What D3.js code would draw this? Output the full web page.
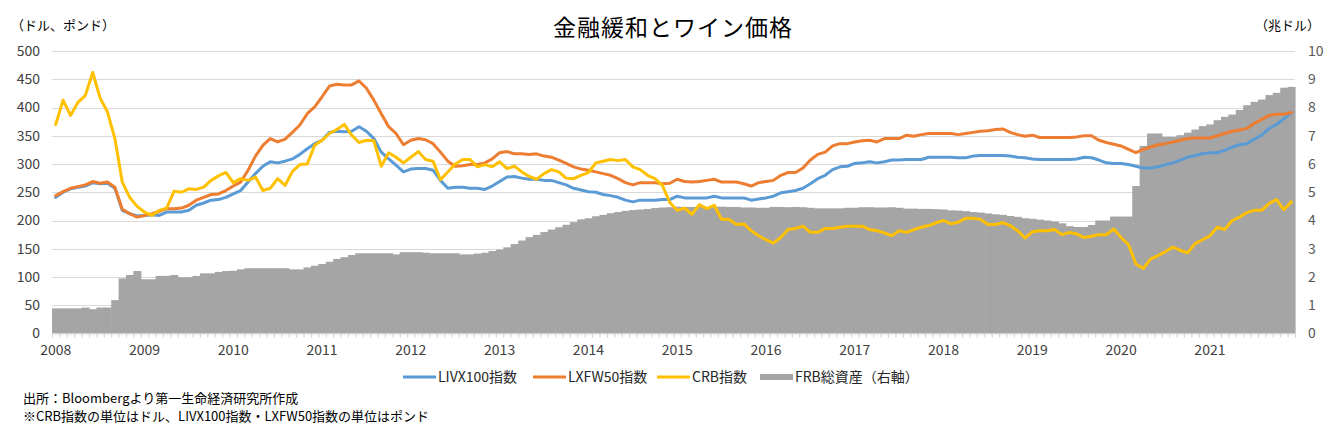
<!DOCTYPE html>
<html><head><meta charset="utf-8">
<script src="https://cdn.jsdelivr.net/npm/d3@7/dist/d3.min.js"></script>
<style>
body{margin:0;background:#fff;}
svg text{font-family:"Noto Sans CJK JP","Noto Sans",sans-serif;}
</style></head><body>
<svg id="chart" width="1340" height="427"></svg>
<script>
const yearLabels = ["2008","2009","2010","2011","2012","2013","2014","2015","2016","2017","2018","2019","2020","2021"];
const monthNames = ["01","02","03","04","05","06","07","08","09","10","11","12"];
const categories = yearLabels.flatMap(y => monthNames.map(m => y + "-" + m));
const leftTicks = [0,50,100,150,200,250,300,350,400,450,500];
const rightTicks = [0,1,2,3,4,5,6,7,8,9,10];

const livx100 = [
 241,250,256,259,261,267,265,266,257,218,212,208,
 209,210,209,215,215,215,218,227,231,236,237,241,
 247,253,268,283,296,304,302,305,309,317,327,336,
 342,356,358,357,358,366,358,345,321,309,298,286,
 291,292,292,289,271,257,259,259,257,257,255,261,
 269,277,278,275,273,273,271,271,267,263,257,254,
 251,250,246,244,241,236,233,236,236,236,237,237,
 243,240,240,240,240,243,240,240,240,240,236,238,
 240,243,249,251,253,257,265,274,280,290,295,296,
 301,302,304,302,304,307,307,308,308,308,312,312,
 312,312,311,311,314,315,315,315,315,314,312,311,
 309,308,308,308,308,308,309,312,311,307,302,301,
 301,299,296,293,293,295,299,302,307,312,315,318,
 320,320,324,330,334,336,344,351,363,370,380,391
];
const lxfw50 = [
 244,251,257,260,263,269,266,268,259,220,212,206,
 209,212,216,221,221,222,227,236,241,246,247,253,
 261,268,289,314,333,345,339,344,356,369,389,401,
 419,438,441,440,440,447,434,413,389,366,354,334,
 342,345,343,336,321,305,296,297,299,299,302,309,
 320,322,318,318,317,318,314,312,307,301,295,291,
 289,286,283,280,274,267,263,267,267,267,265,266,
 273,269,268,269,271,273,268,268,268,265,261,267,
 269,271,280,285,285,293,307,317,321,332,336,336,
 339,341,342,339,345,345,345,351,349,352,354,354,
 354,354,352,354,356,358,359,361,362,356,352,349,
 351,347,347,347,347,347,348,350,350,342,338,335,
 332,326,320,326,330,334,336,339,342,345,346,346,
 346,350,354,358,360,363,372,379,386,388,388,391
];
const crb = [
 370,413,386,409,421,462,417,392,345,268,241,225,
 215,209,218,222,252,250,256,255,259,271,279,285,
 267,274,271,277,253,257,274,262,287,299,300,333,
 342,354,361,370,351,338,342,341,296,320,312,302,
 312,322,308,305,272,286,300,308,308,295,299,295,
 304,292,296,286,278,273,283,290,286,275,274,280,
 285,302,305,308,306,308,295,290,280,274,262,232,
 218,222,211,228,221,227,202,202,193,194,182,173,
 166,160,170,184,186,190,179,179,186,186,188,190,
 190,190,184,182,178,173,182,179,184,188,191,196,
 200,194,197,204,204,202,193,193,196,191,182,169,
 180,182,182,184,175,179,176,170,172,175,175,185,
 170,157,123,115,132,138,145,153,147,143,159,166,
 173,188,184,200,206,214,218,218,230,237,219,233
];
const frbAssets = [
 0.89,0.89,0.89,0.89,0.92,0.86,0.92,0.92,1.18,1.95,2.07,2.21,
 1.92,1.92,2.04,2.04,2.07,1.99,1.99,2.04,2.13,2.13,2.18,2.21,
 2.22,2.27,2.31,2.31,2.31,2.31,2.31,2.31,2.27,2.27,2.34,2.40,
 2.46,2.54,2.64,2.70,2.78,2.84,2.84,2.84,2.84,2.84,2.80,2.88,
 2.88,2.88,2.86,2.84,2.84,2.84,2.84,2.80,2.80,2.83,2.86,2.92,
 2.97,3.05,3.17,3.29,3.41,3.49,3.59,3.68,3.76,3.85,3.94,4.04,
 4.08,4.15,4.20,4.26,4.30,4.34,4.37,4.39,4.41,4.44,4.46,4.47,
 4.49,4.48,4.48,4.48,4.48,4.49,4.49,4.48,4.48,4.46,4.46,4.45,
 4.45,4.48,4.48,4.47,4.48,4.47,4.45,4.43,4.43,4.43,4.43,4.45,
 4.45,4.47,4.47,4.46,4.46,4.47,4.45,4.42,4.42,4.41,4.41,4.40,
 4.39,4.36,4.35,4.33,4.30,4.28,4.25,4.22,4.20,4.16,4.13,4.08,
 4.06,4.03,4.00,3.96,3.90,3.80,3.77,3.77,3.84,4.00,4.00,4.14,
 4.14,4.14,5.22,6.64,7.08,7.08,6.96,6.96,7.02,7.11,7.22,7.34,
 7.40,7.55,7.67,7.75,7.91,8.08,8.20,8.28,8.44,8.52,8.70,8.73
];

const seriesNames = ["LIVX100指数","LXFW50指数","CRB指数","FRB総資産（右軸）"];
const colors = ["#5B9BD5","#ED7D31","#FFC000","#A5A5A5"];

const svg = d3.select("#chart");
const L = 52, R = 1295, T = 51, B = 333.5;

const x = d3.scaleBand().domain(categories).range([L, R]).padding(0);
const bw = x.bandwidth();
const xEdge = d3.scaleLinear().domain([0, categories.length]).range([L, R]);
const yL = d3.scaleLinear().domain([0, 500]).range([B, T]);
const yR = d3.scaleLinear().domain([0, 10]).range([B, T]);

// gridlines
svg.append("g").selectAll("line").data(leftTicks.filter(d => d > 0)).join("line")
  .attr("x1", L).attr("x2", R)
  .attr("y1", d => Math.round(yL(d)) + 0.5).attr("y2", d => Math.round(yL(d)) + 0.5)
  .attr("stroke", "#d9d9d9").attr("stroke-width", 1);

// FRB bars
svg.append("g").selectAll("rect").data(frbAssets).join("rect")
  .attr("x", (d, i) => x(categories[i]))
  .attr("width", bw + 0.6)
  .attr("y", d => yR(d))
  .attr("height", d => yR(0) - yR(d))
  .attr("fill", colors[3]);

// x axis ticks
const tickAxis = d3.axisBottom(xEdge).tickValues(d3.range(0, categories.length + 1)).tickSize(4).tickFormat("");
const gT = svg.append("g").attr("transform", `translate(0,${B})`).call(tickAxis);
gT.selectAll("line").attr("stroke", "#d0d0d0");
gT.select(".domain").attr("stroke", "#d9d9d9");

// year labels
const janCats = categories.filter((c, i) => i % 12 === 0);
const gX = svg.append("g").attr("transform", `translate(0,${B})`)
  .call(d3.axisBottom(x).tickValues(janCats).tickFormat((d, i) => yearLabels[i]).tickSize(0).tickPadding(12));
gX.select(".domain").remove();
gX.selectAll("text").attr("font-size", 14).attr("fill", "#404040").style("font-family", '"Noto Sans CJK JP",sans-serif');

// left axis
const gL = svg.append("g").attr("transform", `translate(${L},0)`)
  .call(d3.axisLeft(yL).tickValues(leftTicks).tickSize(0).tickPadding(12));
gL.select(".domain").remove();
gL.selectAll("text").attr("font-size", 14).attr("fill", "#404040").style("font-family", '"Noto Sans CJK JP",sans-serif');

// right axis
const gR = svg.append("g").attr("transform", `translate(${R},0)`)
  .call(d3.axisRight(yR).tickValues(rightTicks).tickSize(0).tickPadding(13));
gR.select(".domain").remove();
gR.selectAll("text").attr("font-size", 14).attr("fill", "#595959").style("font-family", '"Noto Sans CJK JP",sans-serif');

// lines
const line = d3.line().x((d, i) => x(categories[i]) + bw / 2).y(d => yL(d));
[livx100, lxfw50, crb].forEach((s, k) => {
  svg.append("path").datum(s).attr("d", line)
    .attr("fill", "none").attr("stroke", colors[k]).attr("stroke-width", 3)
    .attr("stroke-linejoin", "round").attr("stroke-linecap", "round");
});

// title
svg.append("text").attr("x", 673).attr("y", 36).attr("text-anchor", "middle")
  .attr("font-size", 23).attr("letter-spacing", 1).attr("fill", "#000").text("金融緩和とワイン価格");

// axis titles
svg.append("text").attr("x", 11).attr("y", 30).attr("font-size", 13).attr("fill", "#000").text("（ドル、ポンド）");
svg.append("text").attr("x", 1255).attr("y", 30).attr("font-size", 13).attr("fill", "#000").text("（兆ドル）");

// legend
const legX = [403, 533, 657, 760];
const legY = 377;
const lg = svg.append("g");
seriesNames.forEach((n, k) => {
  if (k < 3) {
    lg.append("line").attr("x1", legX[k]).attr("x2", legX[k] + 33).attr("y1", legY).attr("y2", legY)
      .attr("stroke", colors[k]).attr("stroke-width", 3);
  } else {
    lg.append("rect").attr("x", legX[k]).attr("y", legY - 3).attr("width", 33).attr("height", 6).attr("fill", colors[k]);
  }
  lg.append("text").attr("x", legX[k] + 35).attr("y", legY + 5).attr("font-size", 14).attr("fill", "#262626").text(n);
});

// footnotes
svg.append("text").attr("x", 23).attr("y", 403).attr("font-size", 13).attr("fill", "#000").text("出所：Bloombergより第一生命経済研究所作成");
svg.append("text").attr("x", 23).attr("y", 421).attr("font-size", 13).attr("fill", "#000").text("※CRB指数の単位はドル、LIVX100指数・LXFW50指数の単位はポンド");
</script>
</body></html>
